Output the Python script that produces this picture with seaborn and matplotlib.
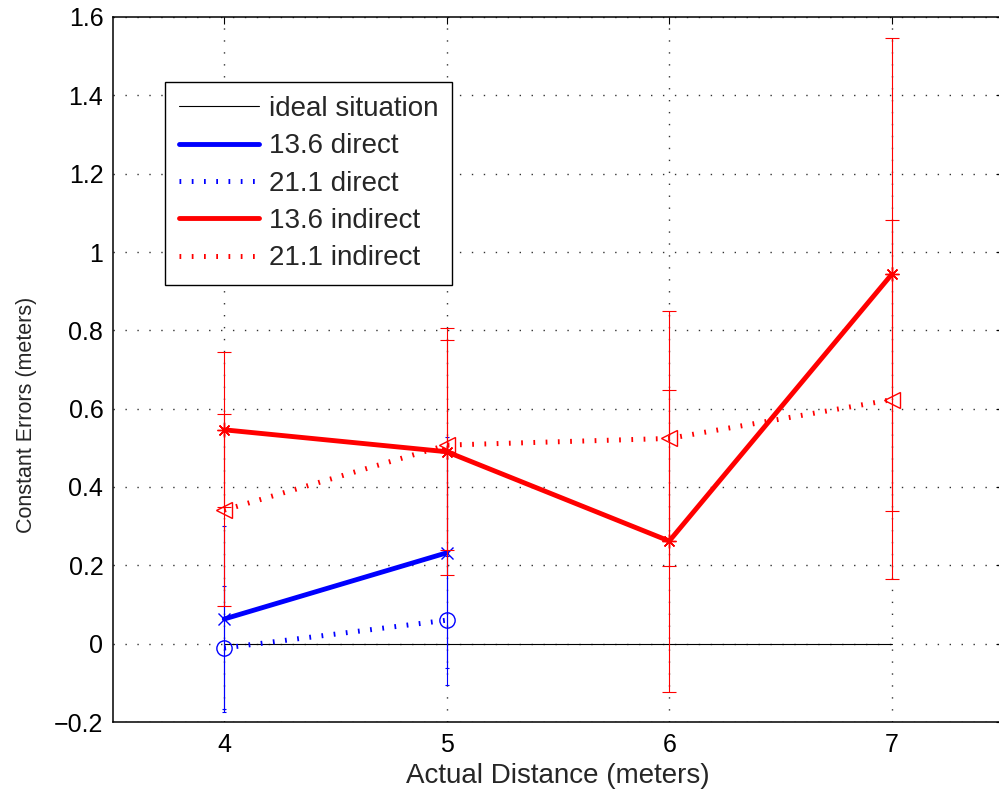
import matplotlib
matplotlib.use("Agg")
import matplotlib.pyplot as plt
import seaborn as sns
import pandas as pd

# ---- data ----
x_ideal = [4, 7]
y_ideal = [0, 0]

x_direct = [4, 5]
ce_136_direct = [0.063, 0.232]
err_136_direct = [0.237, 0.295]
ce_211_direct = [-0.011, 0.060]
err_211_direct = [0.157, 0.165]

x_indirect = [4, 5, 6, 7]
ce_136_indirect = [0.546, 0.490, 0.262, 0.943]
err_136_indirect = [0.198, 0.315, 0.386, 0.604]
ce_211_indirect = [0.341, 0.507, 0.524, 0.623]
err_211_indirect = [0.246, 0.268, 0.326, 0.458]

labels = ["ideal situation", "13.6 direct", "21.1 direct", "13.6 indirect", "21.1 indirect"]
x_ticks = [4, 5, 6, 7]
y_ticks = [-0.2, 0, 0.2, 0.4, 0.6, 0.8, 1.0, 1.2, 1.4, 1.6]
y_tick_labels = ["\u22120.2", "0", "0.2", "0.4", "0.6", "0.8", "1", "1.2", "1.4", "1.6"]

sns.set_style("white")
plt.rcParams["font.family"] = ["Liberation Sans", "DejaVu Sans"]

W, H = 999, 795
fig = plt.figure(figsize=(W / 100, H / 100), dpi=100)
ax = fig.add_axes([113 / W, 73 / H, (1003 - 113) / W, 705 / H])

BLUE = "#0000ff"
RED = "#ff0000"
dot_dash = (0.35, 2.1)

def series(x, y, color, lw, ls, marker, ms, label, dashes=None):
    df = pd.DataFrame({"x": x, "y": y})
    kw = dict(color=color, linewidth=lw, marker=marker, markersize=ms,
              markerfacecolor="none", markeredgecolor=color, markeredgewidth=1.0,
              label=label, estimator=None, sort=False, ax=ax)
    if dashes is not None:
        kw["dashes"] = dashes
        kw["dash_capstyle"] = "butt"
    else:
        kw["linestyle"] = ls
    sns.lineplot(data=df, x="x", y="y", **kw)

# ideal
sns.lineplot(x=x_ideal, y=y_ideal, color="black", linewidth=0.8, label=labels[0],
             estimator=None, sort=False, ax=ax)

# 13.6 direct
ax.errorbar(x_direct, ce_136_direct, yerr=err_136_direct, fmt="none", ecolor=BLUE,
            elinewidth=0.8, capsize=1.6, capthick=0.8)
series(x_direct, ce_136_direct, BLUE, 3.5, "-", "x", 8, labels[1])

# 21.1 direct
ax.errorbar(x_direct, ce_211_direct, yerr=err_211_direct, fmt="none", ecolor=BLUE,
            elinewidth=0.8, capsize=1.6, capthick=0.8)
series(x_direct, ce_211_direct, BLUE, 3.6, None, "o", 11, labels[2], dashes=dot_dash)

# 13.6 indirect
ax.errorbar(x_indirect, ce_136_indirect, yerr=err_136_indirect, fmt="none", ecolor=RED,
            elinewidth=0.8, capsize=4.7, capthick=0.8)
series(x_indirect, ce_136_indirect, RED, 3.5, "-", (8, 2, 0), 10, labels[3])

# 21.1 indirect
ax.errorbar(x_indirect, ce_211_indirect, yerr=err_211_indirect, fmt="none", ecolor=RED,
            elinewidth=0.8, capsize=4.7, capthick=0.8)
series(x_indirect, ce_211_indirect, RED, 3.6, None, "<", 12, labels[4], dashes=dot_dash)

ax.set_xlim(3.5, 7.5)
ax.set_ylim(-0.2, 1.6)
ax.set_xticks(x_ticks)
ax.set_xticklabels([str(t) for t in x_ticks])
ax.set_yticks(y_ticks)
ax.set_yticklabels(y_tick_labels)
ax.tick_params(direction="in", length=5, width=0.8, top=True, right=True,
               labelsize=18, colors="black", pad=7)
ax.tick_params(axis="x", pad=8)

for s in ax.spines.values():
    s.set_color("black")
    s.set_linewidth(1.1)
    s.set_visible(True)

ax.grid(True, color="#333333", linewidth=1.0, linestyle=(0, (1, 7.6)))
ax.set_axisbelow(True)

ax.set_xlabel("Actual Distance (meters)", fontsize=20, labelpad=4)
ax.set_ylabel("Constant Errors (meters)", fontsize=15.5)
ax.yaxis.set_label_coords((37 - 113) / 890, (722 - 415) / 705)

handles, labs = ax.get_legend_handles_labels()
leg = ax.legend(handles, labs, loc="upper left",
                bbox_to_anchor=(165 / W, 1 - 82 / H), bbox_transform=fig.transFigure,
                borderaxespad=0, fontsize=20, frameon=True, fancybox=False,
                edgecolor="black", framealpha=1, handlelength=2.9,
                handletextpad=0.33, labelspacing=0.41, borderpad=0.5)
leg.get_frame().set_linewidth(1.0)
for h in leg.legend_handles:
    try:
        h.set_marker("None")
    except Exception:
        pass

fig.savefig("out.png", dpi=100)
